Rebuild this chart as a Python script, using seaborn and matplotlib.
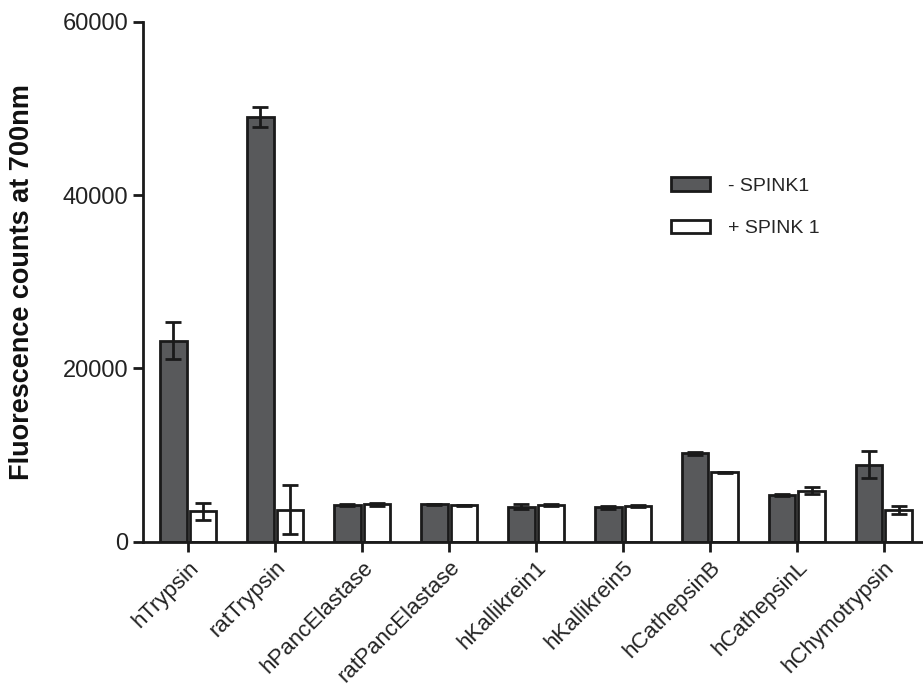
import matplotlib
matplotlib.use("Agg")
import matplotlib.pyplot as plt
import seaborn as sns
import pandas as pd
import numpy as np

categories = ["hTrypsin", "ratTrypsin", "hPancElastase", "ratPancElastase",
              "hKallikrein1", "hKallikrein5", "hCathepsinB", "hCathepsinL",
              "hChymotrypsin"]
series_names = ["- SPINK1", "+ SPINK 1"]
minus_spink = [23200, 49000, 4200, 4350, 4050, 3950, 10200, 5400, 8900]
minus_err = [2100, 1200, 100, 60, 250, 150, 200, 150, 1600]
plus_spink = [3500, 3700, 4300, 4200, 4250, 4100, 8000, 5900, 3700]
plus_err = [1000, 2800, 150, 50, 150, 150, 100, 400, 450]
yticks = [0, 20000, 40000, 60000]

sns.set_theme(style="ticks")
plt.rcParams["font.family"] = ["Liberation Sans", "DejaVu Sans"]

df = pd.DataFrame({
    "target": categories * 2,
    "value": minus_spink + plus_spink,
    "cond": [series_names[0]] * len(categories) + [series_names[1]] * len(categories),
})

fig = plt.figure(figsize=(9.23, 6.99), dpi=100)
ax = fig.add_axes([0.155, 0.225, 0.845, 0.744])

sns.barplot(data=df, x="target", y="value", hue="cond", order=categories,
            hue_order=series_names, palette=["#58595b", "#ffffff"],
            edgecolor="#1a1a1a", linewidth=2.0, width=0.68, gap=0.1,
            errorbar=None, ax=ax)

for cont, errs in zip(ax.containers, [minus_err, plus_err]):
    xs = [p.get_x() + p.get_width() / 2 for p in cont.patches]
    hs = [p.get_height() for p in cont.patches]
    ax.errorbar(xs, hs, yerr=errs, fmt="none", ecolor="#1a1a1a",
                elinewidth=2.0, capsize=6, capthick=2.0, zorder=5)

ax.set_ylim(0, 60000)
ax.set_xlim(-0.52, 8.45)
ax.set_yticks(yticks)
ax.set_yticklabels([str(t) for t in yticks], fontsize=17, color="#222222")
ax.set_xticks(range(len(categories)))
ax.set_xticklabels(categories, rotation=45, ha="right", rotation_mode="anchor",
                   fontsize=16, color="#222222")
ax.set_xlabel("")
ax.set_ylabel("Fluorescence counts at 700nm", fontsize=19.5, fontweight="bold",
              color="#111111")
ax.yaxis.set_label_coords(-0.138, 0.5)
ax.tick_params(axis="both", width=2, length=7, color="#1a1a1a")
ax.tick_params(axis="x", pad=4)
for s in ["left", "bottom"]:
    ax.spines[s].set_linewidth(2)
    ax.spines[s].set_color("#1a1a1a")
sns.despine(ax=ax)

sns.move_legend(ax, loc="upper left", bbox_to_anchor=(0.655, 0.735),
                frameon=False, title=None, fontsize=14,
                handlelength=2.0, handleheight=0.7, labelspacing=1.3,
                handletextpad=0.9)

fig.savefig("out.png", dpi=100)
